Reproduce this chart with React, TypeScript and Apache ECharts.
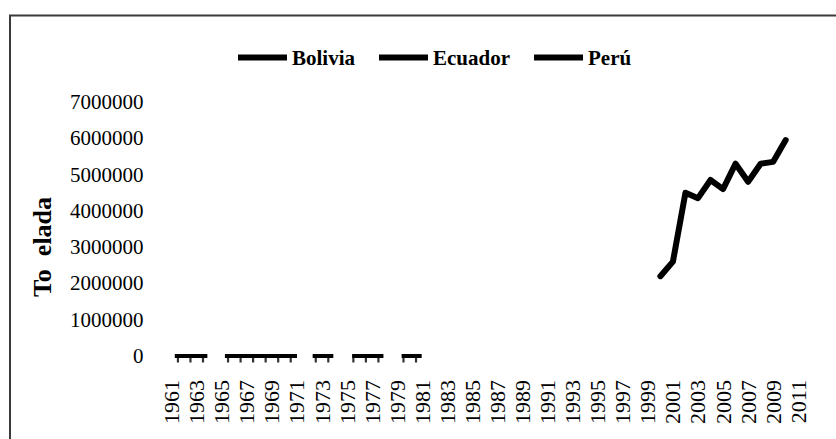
import { useEffect, useRef } from "react";
import * as echarts from "echarts";

// Category axis: one slot per year
const years = [
  "1961", "1962", "1963", "1964", "1965", "1966", "1967", "1968", "1969", "1970",
  "1971", "1972", "1973", "1974", "1975", "1976", "1977", "1978", "1979", "1980",
  "1981", "1982", "1983", "1984", "1985", "1986", "1987", "1988", "1989", "1990",
  "1991", "1992", "1993", "1994", "1995", "1996", "1997", "1998", "1999", "2000",
  "2001", "2002", "2003", "2004", "2005", "2006", "2007", "2008", "2009", "2010",
  "2011",
];

const seriesNames = ["Bolivia", "Ecuador", "Perú"];

// Production in tonnes (only the Peru run is legible)
const boliviaYears: string[] = [];
const boliviaTonnes: number[] = [];
const ecuadorYears: string[] = [];
const ecuadorTonnes: number[] = [];
const peruYears = ["2000", "2001", "2002", "2003", "2004", "2005", "2006", "2007", "2008", "2009", "2010"];
const peruTonnes = [2200000, 2600000, 4500000, 4350000, 4850000, 4600000, 5300000, 4800000, 5300000, 5350000, 5950000];

// Surviving stretches of the zero baseline (in years), and the year boundaries that keep a tick
const baselineRuns: [number, number][] = [
  [1961.25, 1963.85],
  [1965.25, 1971.0],
  [1972.25, 1973.9],
  [1975.4, 1977.9],
  [1979.35, 1980.95],
];
const tickBoundaries = [
  1961.5, 1962.5, 1963.5,
  1965.5, 1966.5, 1967.5, 1968.5, 1969.5, 1970.5,
  1972.5, 1973.5,
  1975.5, 1976.5, 1977.5,
  1979.5, 1980.5,
];

const yMax = 7000000;
const yStep = 1000000;

const FONT = "'Liberation Serif', 'Times New Roman', serif";
const INK = "#000";

function alignToYears(ys: string[], vs: number[]): (number | null)[] {
  return years.map((y) => {
    const i = ys.indexOf(y);
    return i >= 0 ? vs[i] : null;
  });
}

export default function App() {
  const ref = useRef<HTMLDivElement>(null);

  useEffect(() => {
    if (!ref.current) return;
    const chart = echarts.init(ref.current, null, { renderer: "svg" });

    const firstYear = Number(years[0]);
    const lastYear = Number(years[years.length - 1]);

    const dataSeries = [
      { name: seriesNames[0], data: alignToYears(boliviaYears, boliviaTonnes) },
      { name: seriesNames[1], data: alignToYears(ecuadorYears, ecuadorTonnes) },
      { name: seriesNames[2], data: alignToYears(peruYears, peruTonnes) },
    ].map((s) => ({
      type: "line" as const,
      name: s.name,
      data: s.data,
      showSymbol: false,
      symbol: "none",
      connectNulls: false,
      color: INK,
      lineStyle: { color: INK, width: 6, cap: "round" as const, join: "round" as const },
      silent: true,
      z: 3,
    }));

    const baselineSeries = baselineRuns.map(([a, b], k) => ({
      type: "line" as const,
      name: `baseline-${k}`,
      xAxisIndex: 1,
      data: [
        [a, 0],
        [b, 0],
      ],
      showSymbol: false,
      symbol: "none",
      color: INK,
      lineStyle: { color: INK, width: 4 },
      silent: true,
      z: 2,
    }));

    const tickSeries = {
      type: "scatter" as const,
      name: "baseline-ticks",
      xAxisIndex: 1,
      data: tickBoundaries.map((x) => [x, 0]),
      symbol: "rect",
      symbolSize: [2.2, 7],
      symbolOffset: [0, 3],
      itemStyle: { color: INK },
      silent: true,
      z: 2,
    };

    chart.setOption({
      animation: false,
      backgroundColor: "#fff",
      textStyle: { fontFamily: FONT, color: INK },
      legend: {
        data: seriesNames,
        left: 233,
        top: 42,
        icon: "rect",
        itemWidth: 49,
        itemHeight: 6,
        itemGap: 24,
        selectedMode: false,
        textStyle: { fontFamily: FONT, fontSize: 21, fontWeight: "bold", color: INK },
      },
      grid: { left: 165.4, right: 31.5, top: 102, bottom: 83, containLabel: false },
      xAxis: [
        {
          type: "category",
          data: years,
          boundaryGap: true,
          axisLine: { show: false },
          axisTick: { show: false },
          axisLabel: {
            interval: 1,
            rotate: 90,
            margin: 24,
            fontFamily: FONT,
            fontSize: 22,
            color: INK,
          },
          splitLine: { show: false },
        },
        {
          type: "value",
          min: firstYear - 0.5,
          max: lastYear + 0.5,
          show: false,
          splitLine: { show: false },
        },
      ],
      yAxis: {
        type: "value",
        min: 0,
        max: yMax,
        interval: yStep,
        axisLine: { show: false },
        axisTick: { show: false },
        splitLine: { show: false },
        axisLabel: {
          margin: 22,
          fontFamily: FONT,
          fontSize: 21,
          color: INK,
          formatter: (v: number) => String(v),
        },
      },
      graphic: [
        {
          type: "polyline",
          shape: {
            points: [
              [10, 460],
              [10, 15.5],
              [860, 15.5],
            ],
          },
          style: { fill: "none", stroke: "#3a3a3a", lineWidth: 2 },
          silent: true,
        },
        {
          type: "text",
          x: 42,
          y: 247,
          rotation: Math.PI / 2,
          style: {
            text: "To  elada",
            font: `bold 26px ${FONT}`,
            fill: INK,
            align: "center",
            verticalAlign: "middle",
          },
          silent: true,
        },
      ],
      series: [...baselineSeries, tickSeries, ...dataSeries],
    });

    return () => chart.dispose();
  }, []);

  return (
    <div
      ref={ref}
      style={{ position: "fixed", left: 0, top: 0, width: 836, height: 439, background: "#fff" }}
    />
  );
}
